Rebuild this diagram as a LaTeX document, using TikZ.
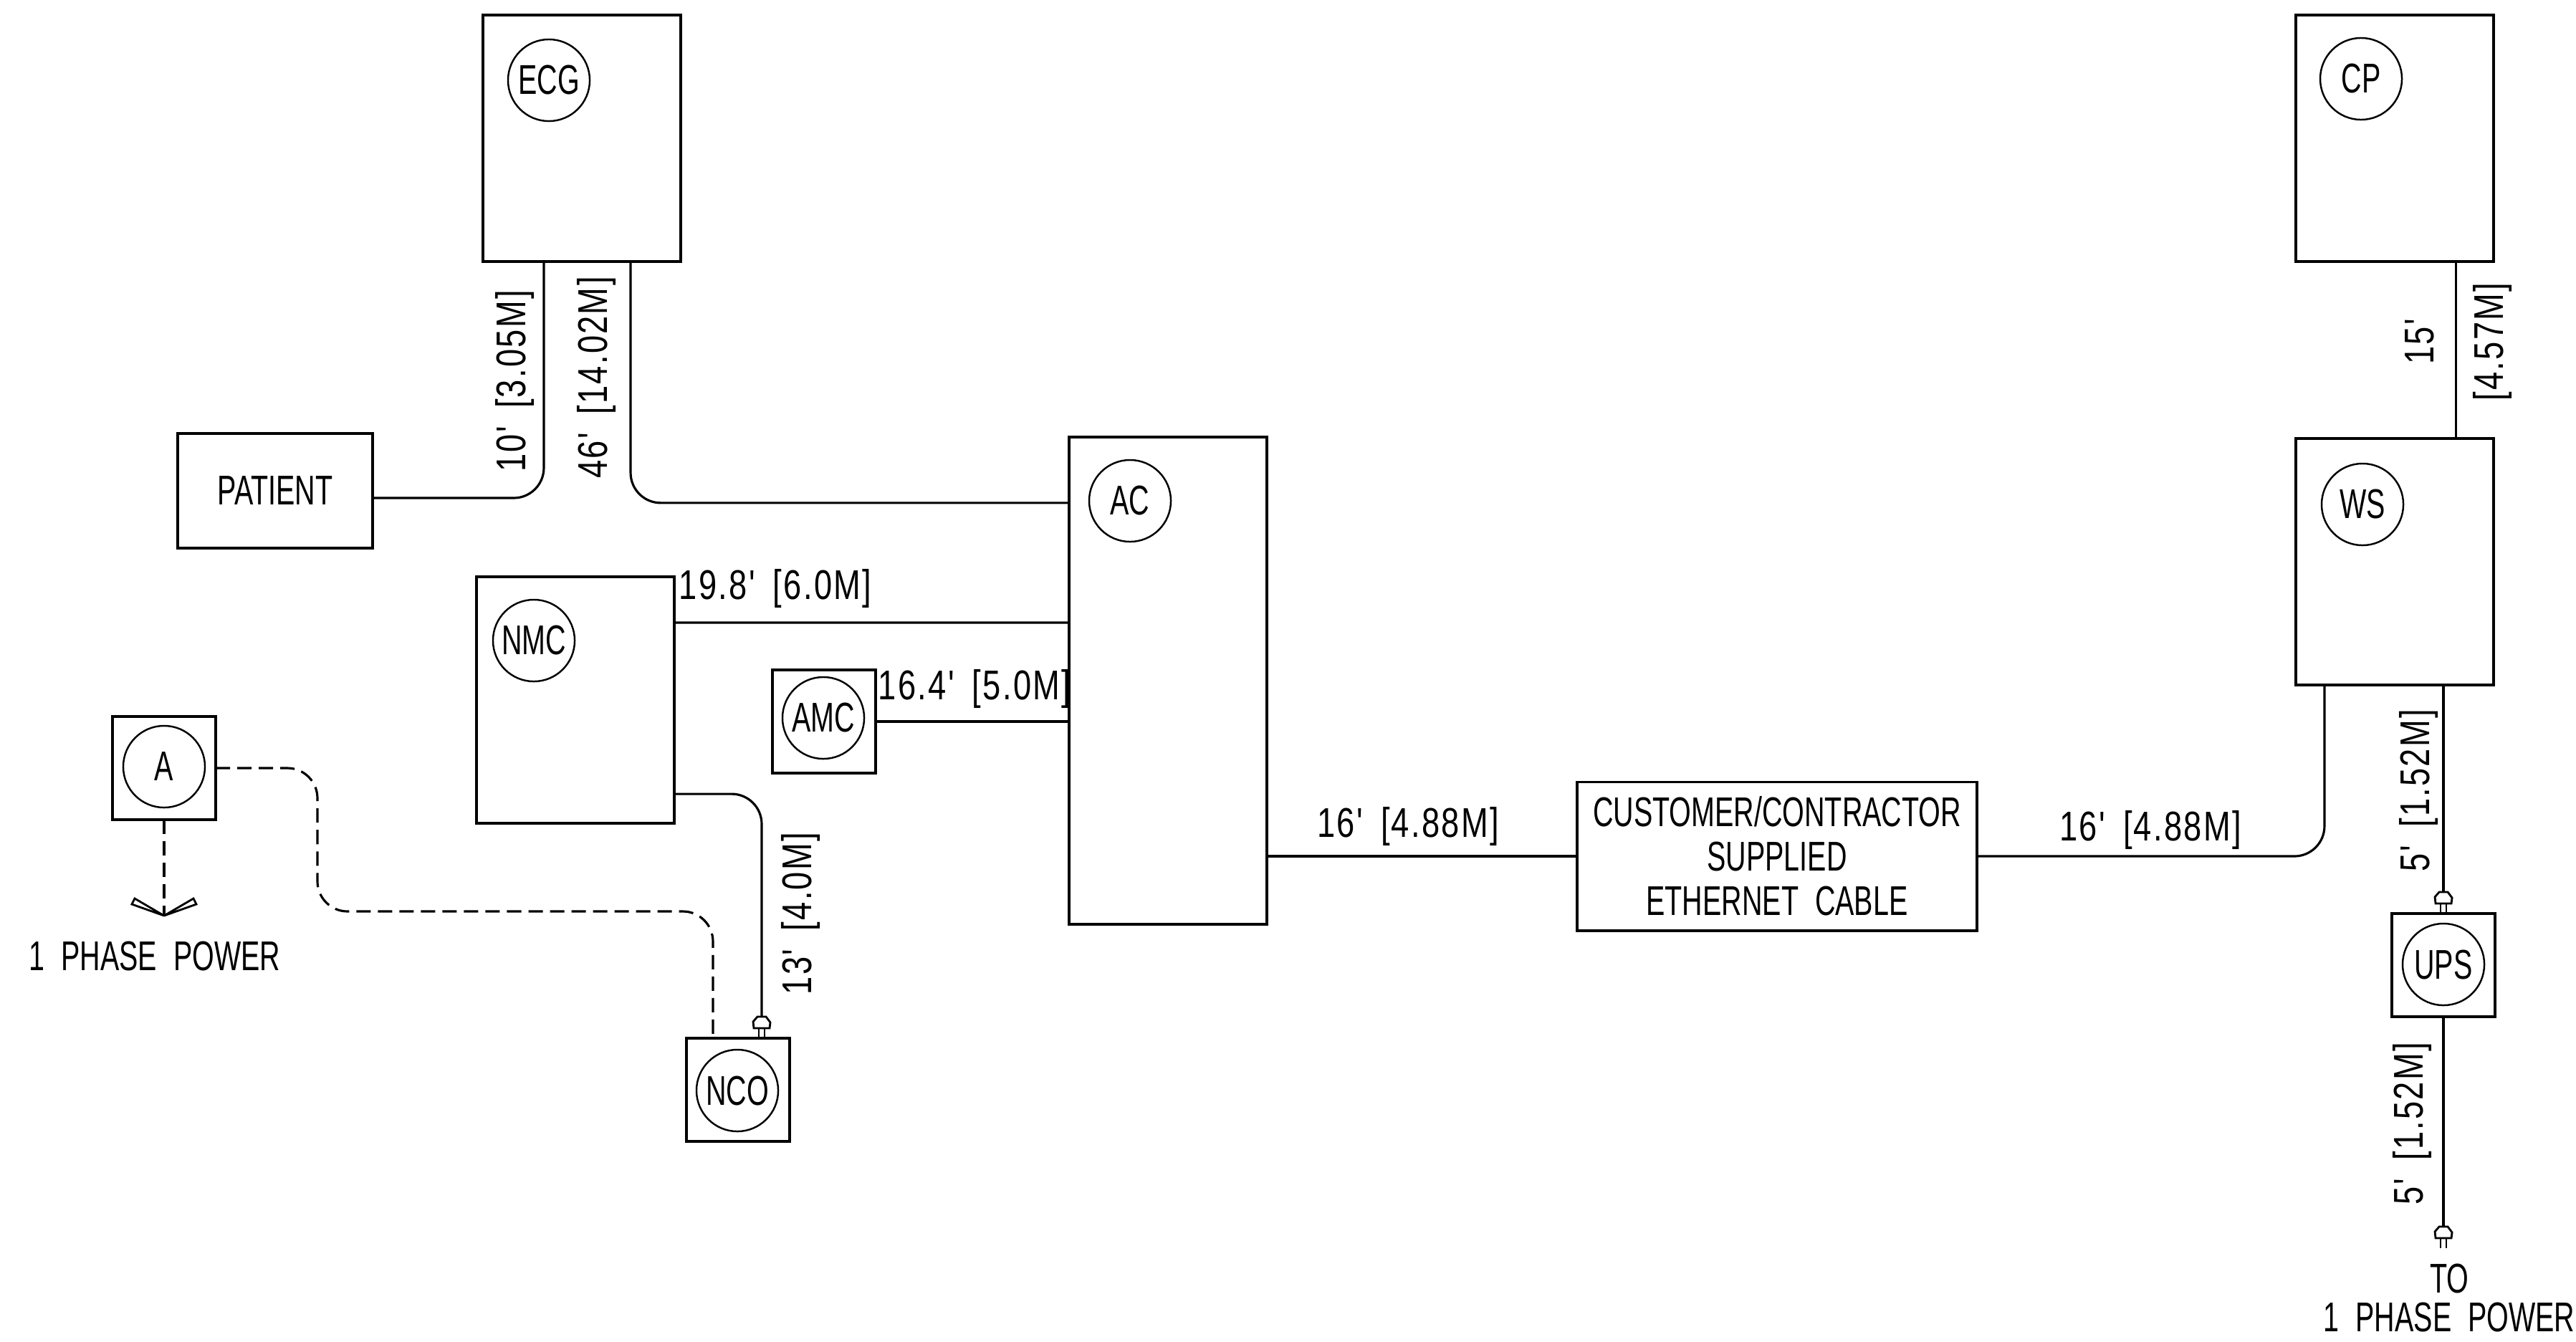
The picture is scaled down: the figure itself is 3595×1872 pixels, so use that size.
\documentclass[tikz,border=0pt]{standalone}
\usepackage{fontspec}
\setmainfont[FakeStretch=0.68,WordSpace=2.1]{Liberation Sans}
\newfontfamily\dimfont[FakeStretch=0.78,LetterSpace=4,WordSpace=1.7]{Liberation Sans}
\newcommand{\labelsize}{\fontsize{16.5pt}{17.6pt}\selectfont}
\tikzset{
    unit/.style={draw, rectangle, line width=1.1pt, inner sep=0pt, outer sep=0pt, minimum width=2.76cm, minimum height=3.44cm},
    smallunit/.style={unit, minimum width=1.44cm, minimum height=1.44cm},
    tag/.style={draw, circle, line width=0.7pt, inner sep=0pt, minimum size=1.14cm},
    wire/.style={line width=0.9pt, rounded corners=0.42cm},
    dashwire/.style={wire, dash pattern=on 0.2cm off 0.1cm},
    lbl/.style={inner sep=0pt},
    dimlbl/.style={lbl, font=\labelsize\dimfont},
    vlbl/.style={dimlbl, rotate=90},
    plug/.pic={
        \draw[line width=0.8pt] (-4,0) -- (-4,-14) (4,0) -- (4,-14);
        \draw[line width=0.8pt] (-11,-14) -- (11,-14) -- (12,-22) -- (6,-30) -- (-6,-30) -- (-12,-23) -- cycle;
        \coordinate (-top) at (0,-30);
    },
    blades/.pic={
        \draw[line width=0.8pt] (0,0) -- (-45,-16) -- (-41,-24) -- cycle;
        \draw[line width=0.8pt] (0,0) -- (45,-16) -- (41,-24) -- cycle;
        \coordinate (-tip) at (0,0);
    },
}
\begin{document}
\begin{tikzpicture}[x=0.01cm, y=-0.01cm, font=\labelsize]
                    \useasboundingbox (0,0) rectangle (3595,1872);

                    \node[unit] (ecg) at (812,193) {};
                    \node[unit] (cp) at (3342,193) {};
                    \node[unit, minimum height=1.6cm, minimum width=2.72cm] (patient) at (384,685) {PATIENT};
                    \node[unit, minimum height=6.79cm] (ac) at (1630,950) {};
                    \node[unit] (ws) at (3342,784) {};
                    \node[unit] (nmc) at (803,977) {};
                    \node[smallunit] (amc) at (1150,1007) {};
                    \node[smallunit] (a) at (229,1072) {};
                    \node[smallunit] (nco) at (1030,1521) {};
                    \node[smallunit] (ups) at (3410,1347) {};
                    \node[unit, minimum width=5.57cm, minimum height=2.07cm, align=center] (eth) at (2480,1195) {CUSTOMER/CONTRACTOR\\SUPPLIED\\ETHERNET CABLE};

                    \node[tag] (ecgtag) at (766,112) {ECG};
                    \node[tag] (cptag) at (3295,110) {CP};
                    \node[tag] (actag) at (1577,699) {AC};
                    \node[tag] (wstag) at (3297,704) {WS};
                    \node[tag] (nmctag) at (745,894) {NMC};
                    \node[tag] (amctag) at (1149,1002) {AMC};
                    \node[tag] (atag) at (229,1070) {A};
                    \node[tag] (ncotag) at (1029,1522) {NCO};
                    \node[tag] (upstag) at (3410,1346) {UPS};

                    \pic (ncoplug) at (nco.north -| 1063,0) {plug};
                    \pic (upsplug) at (ups.north) {plug};
                    \pic (endplug) at (3410,1742) {plug};
                    \pic (apower) at (229,1278) {blades};
                    \coordinate (dashmid) at (443,1272);

                    \draw[wire] ([yshift=-0.1cm]patient.east) -| ([xshift=-0.53cm]ecg.south);
                    \draw[wire] ([xshift=0.68cm]ecg.south) |- ([yshift=2.48cm]ac.west);
                    \draw[wire] ([yshift=1.08cm]nmc.east) -- ([yshift=0.81cm]ac.west);
                    \draw[wire] (amc.east) -- (amc.east -| ac.west);
                    \draw[wire] (eth.west -| ac.east) -- (eth.west);
                    \draw[wire] (eth.east) -| ([xshift=-0.98cm]ws.south);
                    \draw[wire] ([xshift=0.85cm]cp.south) -- ([xshift=0.85cm]ws.north);
                    \draw[wire] (ws.south -| ups.north) -- (upsplug-top);
                    \draw[wire] (ups.south) -- (endplug-top);
                    \draw[wire] ([yshift=-1.31cm]nmc.east) -| (ncoplug-top);

                    \draw[dashwire] (a.east) -| (dashmid) -| ([xshift=-0.35cm]nco.north);
                    \draw[dashwire] (a.south) -- (apower-tip);

                    \node[vlbl] (ecgpatlbl) at (718,532) {10' [3.05M]};
                    \node[vlbl] (ecgaclbl) at (832,527) {46' [14.02M]};
                    \node[dimlbl] (nmclbl) at (1082,821) {19.8' [6.0M]};
                    \node[dimlbl] (amclbl) at (1360,961) {16.4' [5.0M]};
                    \node[dimlbl] (aclbl) at (1965,1153) {16' [4.88M]};
                    \node[dimlbl] (wslbl) at (3001,1158) {16' [4.88M]};
                    \node[vlbl] (cplbla) at (3377,477) {15'};
                    \node[vlbl] (cplblb) at (3478,477) {[4.57M]};
                    \node[vlbl] (upslbla) at (3375,1103) {5' [1.52M]};
                    \node[vlbl] (upslblb) at (3366,1568) {5' [1.52M]};
                    \node[vlbl] (ncolbl) at (1117,1275) {13' [4.0M]};
                    \node[lbl] (powerlbl) at (216,1334) {1 PHASE POWER};
                    \node[lbl] (tolbl) at (3418,1784) {TO};
                    \node[lbl] (endlbl) at (3418,1838) {1 PHASE POWER};
                \end{tikzpicture}
\end{document}
